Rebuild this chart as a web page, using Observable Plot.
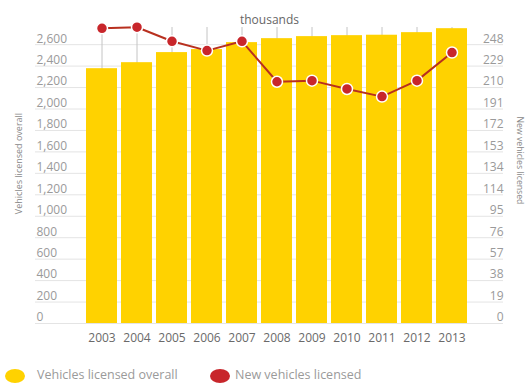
<!DOCTYPE html>
<html>
<head>
<meta charset="utf-8">
<script src="https://cdn.jsdelivr.net/npm/d3@7"></script>
<script src="https://cdn.jsdelivr.net/npm/@observablehq/plot@0.6"></script>
<style>
  html, body { margin: 0; padding: 0; background: #fff; }
  #wrap { position: relative; width: 526px; height: 385px; font-family: "Open Sans", sans-serif; }
  #legend { position: absolute; left: 0; top: 360px; width: 526px; height: 25px; }
  .sw { position: absolute; top: 9px; width: 20px; height: 14px; border-radius: 50%; }
  .lt { position: absolute; top: 6px; font-size: 12.5px; color: #9a9a9a; line-height: 18px; white-space: nowrap; }
</style>
</head>
<body>
<div id="wrap">
  <div id="chart"></div>
  <div id="legend">
    <div class="sw" style="left:5px;background:#FFD200"></div>
    <div class="lt" style="left:37px">Vehicles licensed overall</div>
    <div class="sw" style="left:210px;background:#C8262B"></div>
    <div class="lt" style="left:235px">New vehicles licensed</div>
  </div>
</div>
<script>
const years = ["2003","2004","2005","2006","2007","2008","2009","2010","2011","2012","2013"];
const overall = [2376, 2432, 2526, 2554, 2619, 2656, 2675, 2684, 2688, 2712, 2749];
const newLicensed = [262.5, 263.5, 251, 242.7, 251, 215, 216, 208.6, 201.8, 216, 241];
const leftTicks = [0,200,400,600,800,1000,1200,1400,1600,1800,2000,2200,2400,2600];
const rightTickLabels = [0,19,38,57,76,95,114,134,153,172,191,210,229,248];

const leftMax = 2600, rightMax = 248;
const k = leftMax / rightMax;
const data = years.map((y, i) => ({year: y, overall: overall[i], newv: newLicensed[i]}));
const rightData = rightTickLabels.map((v, i) => ({pos: leftTicks[i], label: String(v)}));

const fontSmall = "Open Sans, sans-serif";

const chart = Plot.plot({
  width: 526,
  height: 360,
  marginLeft: 35,
  marginRight: 23,
  marginTop: 27,
  marginBottom: 37,
  style: {fontFamily: fontSmall, background: "white"},
  x: {domain: years, paddingInner: 0.12, paddingOuter: 1.124, align: 0.5875, axis: null},
  y: {domain: [0, 2760], axis: null},
  marks: [
    Plot.ruleY(leftTicks, {stroke: "#e4e4e4", strokeWidth: 1}),
    Plot.ruleX(years, {x: d => d, stroke: "#c4c4c4", strokeWidth: 1}),
    Plot.barY(data, {x: "year", y: "overall", fill: "#FFD200"}),
    Plot.line(data, {x: "year", y: d => d.newv * k, stroke: "#B8301F", strokeWidth: 2}),
    Plot.dot(data, {x: "year", y: d => d.newv * k, r: 5.5, fill: "#C8262B", stroke: "white", strokeWidth: 1.5}),
    Plot.text(leftTicks, {y: d => d, text: d => d3.format(",")(d), frameAnchor: "left", textAnchor: "start", dx: 1, dy: -6, fill: "#9a9a9a", fontSize: 12}),
    Plot.text(rightData, {y: "pos", text: "label", frameAnchor: "right", textAnchor: "end", dy: -6, fill: "#9a9a9a", fontSize: 12}),
    Plot.axisX({tickSize: 0, tickPadding: 10, fontSize: 12, color: "#6a6a6a", label: null}),
    Plot.text(["thousands"], {frameAnchor: "top", dy: -12, fill: "#666", fontSize: 12}),
    Plot.text(["Vehicles licensed overall"], {frameAnchor: "left", textAnchor: "middle", dx: -16, dy: -12, rotate: -90, fill: "#888", fontSize: 9}),
    Plot.text(["New vehicles licensed"], {frameAnchor: "right", textAnchor: "middle", dx: 16, dy: -15, rotate: 90, fill: "#888", fontSize: 8.7})
  ]
});
document.getElementById("chart").appendChild(chart);
</script>
</body>
</html>
